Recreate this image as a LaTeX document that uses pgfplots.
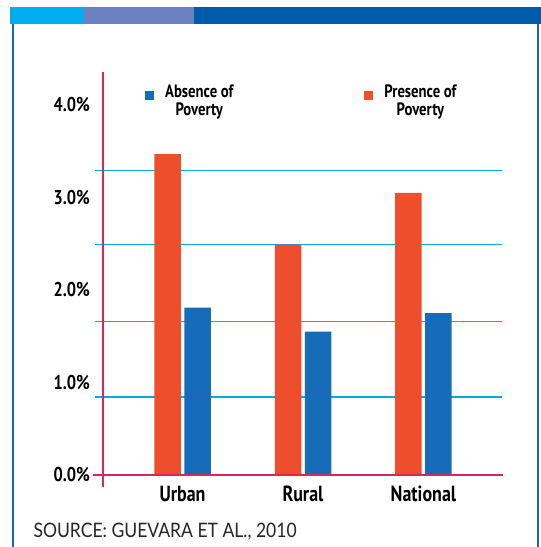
\documentclass[border=0pt]{standalone}
\usepackage{pgfplots}
\pgfplotsset{compat=1.18}
\usepackage{fontspec}
\setmainfont{Lato}
\newfontfamily\cond[FakeStretch=0.82]{PT Sans}
\newfontfamily\src[FakeStretch=0.88]{Lato}
\definecolor{barred}{RGB}{239,78,44}
\definecolor{barblue}{RGB}{22,108,184}
\definecolor{gridcyan}{RGB}{0,170,230}
\definecolor{axisred}{RGB}{214,40,90}
\definecolor{topa}{RGB}{0,174,239}
\definecolor{topb}{RGB}{106,128,192}
\definecolor{topc}{RGB}{0,91,170}
\definecolor{frameblue}{RGB}{30,100,180}
\begin{document}
\begin{tikzpicture}
\useasboundingbox (0,0) rectangle (541bp,547bp);
\fill[white] (0,0) rectangle (541bp,547bp);
\fill[topa] (10bp,523bp) rectangle (84bp,540bp);
\fill[topb] (84bp,523bp) rectangle (194.3bp,540bp);
\fill[topc] (194.3bp,523bp) rectangle (541bp,540bp);
\draw[frameblue, line width=2bp] (12.7bp,0) -- (12.7bp,523bp);
\draw[frameblue, line width=2bp] (537.7bp,0) -- (537.7bp,523bp);
\begin{axis}[
  at={(93bp,60bp)}, anchor=south west,
  scale only axis, width=410bp, height=415.3bp,
  xmin=-0.743, xmax=2.66, ymin=-0.13, ymax=4.36,
  axis line style={draw=none},
  major tick length=0pt,
  ytick={0,1,2,3,4},
  yticklabels={0.0\%,1.0\%,2.0\%,3.0\%,4.0\%},
  yticklabel style={font=\cond\bfseries\fontsize{20}{20}\selectfont, anchor=east, inner sep=0pt, xshift=-3bp},
  xtick={0,1,2}, xticklabels={Urban,Rural,National},
  xticklabel style={font=\cond\bfseries\fontsize{22}{22}\selectfont, anchor=base, inner sep=0pt, yshift=-15bp},
  ybar=3.5bp, bar width=26.5bp,
  reverse legend,
  legend columns=2,
  legend image code/.code={\fill[#1] (0bp,1bp) rectangle (9bp,10bp);},
  legend style={draw=none, fill=none, at={(0.1195,0.978)}, anchor=north west,
    font=\cond\bfseries\fontsize{18}{17.5}\selectfont,
    cells={align=center},
    /tikz/every odd column/.append style={column sep=9bp},
    /tikz/every even column/.append style={column sep=129bp}},
]
\draw[gridcyan, line width=1.6bp] (axis cs:-0.726,0.84) -- (axis cs:2.65,0.84);
\draw[gridcyan, line width=1.6bp] (axis cs:-0.726,1.66) -- (axis cs:2.65,1.66);
\draw[gridcyan, line width=1.6bp] (axis cs:-0.726,2.49) -- (axis cs:2.65,2.49);
\draw[gridcyan, line width=1.6bp] (axis cs:-0.726,3.29) -- (axis cs:2.65,3.29);
\addplot[fill=barred, draw=none] coordinates {(0,3.47) (1,2.49) (2,3.05)};
\addlegendentry{Presence of\\Poverty}
\addplot[fill=barblue, draw=none] coordinates {(0,1.81) (1,1.55) (2,1.75)};
\addlegendentry{Absence of\\Poverty}
\draw[axisred, line width=2bp] (axis cs:-0.657,-0.13) -- (axis cs:-0.657,4.36);
\draw[axisred, line width=2bp] (axis cs:-0.743,0) -- (axis cs:2.66,0);
\end{axis}
\node[anchor=base west, inner sep=0pt, font=\src\fontsize{20}{20}\selectfont, text=black!85] at (33.3bp,10bp) {SOURCE: GUEVARA ET AL., 2010};
\end{tikzpicture}
\end{document}
